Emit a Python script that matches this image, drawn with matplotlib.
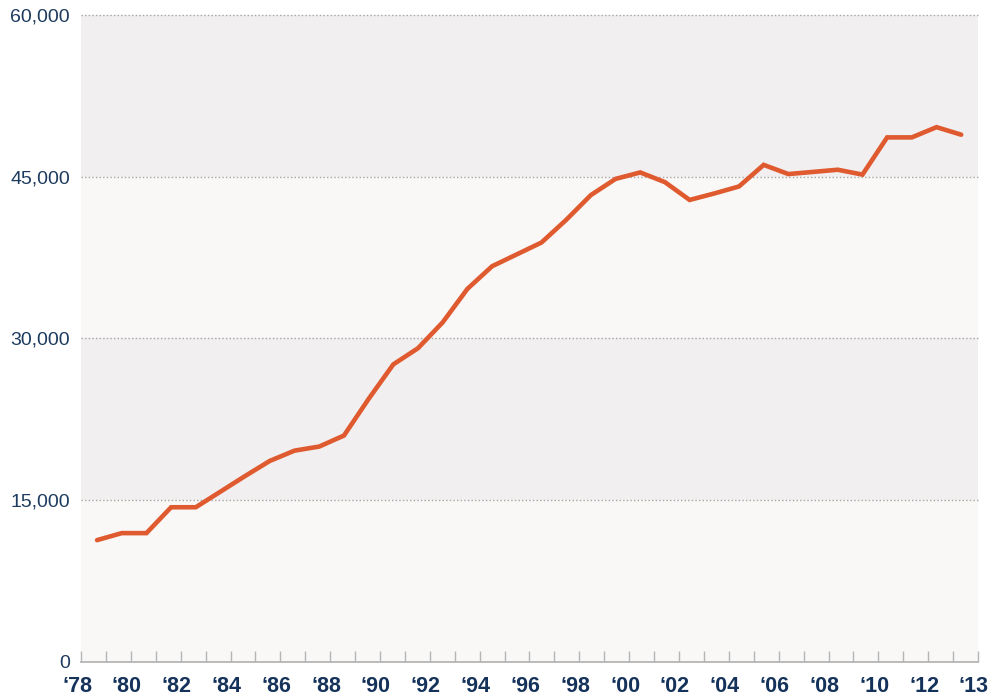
import matplotlib
matplotlib.use("Agg")
import matplotlib.pyplot as plt
import matplotlib.transforms as mtransforms
import numpy as np

years = list(range(1978, 2014))
values = [11300, 11950, 11950, 14350, 14350, 15800, 17250, 18650, 19600, 19980,
          21000, 24400, 27600, 29100, 31500, 34600, 36700, 37800, 38900, 41000,
          43300, 44800, 45400, 44500, 42850, 43450, 44100, 46100, 45250, 45450,
          45650, 45200, 48650, 48650, 49600, 48900]

tick_labels = ["\u201878", "", "\u201880", "", "\u201882", "", "\u201884", "", "\u201886", "",
               "\u201888", "", "\u201890", "", "\u201892", "", "\u201894", "", "\u201896", "",
               "\u201898", "", "\u201800", "", "\u201802", "", "\u201804", "", "\u201806", "",
               "\u201808", "", "\u201810", "", "\u201812", "", "\u201813"]
y_ticks = [0, 15000, 30000, 45000, 60000]
y_labels = ["0", "15,000", "30,000", "45,000", "60,000"]

plt.rcParams['font.family'] = ['Liberation Sans', 'DejaVu Sans']

fig = plt.figure(figsize=(10, 6.98), dpi=100)
ax = fig.add_axes([0.081, 0.0516, 0.897, 0.9269])

x0, x1 = 1977.35, 2013.68
ax.set_xlim(x0, x1)
ax.set_ylim(0, 60000)

light = '#f9f8f7'
dark = '#f1eff0'
for i in range(4):
    ax.axhspan(y_ticks[i], y_ticks[i + 1], color=light if i % 2 == 0 else dark, lw=0, zorder=0)

for yv in y_ticks[1:]:
    ax.axhline(yv, color='#a5a5a5', lw=1.0, linestyle=(0, (1, 1.6)), zorder=1, clip_on=False)

ax.plot(years, values, color='#df5a2f', lw=3.3, solid_capstyle='round',
        solid_joinstyle='miter', zorder=3)

for s in ['top', 'right', 'left']:
    ax.spines[s].set_visible(False)
ax.spines['bottom'].set_color('#b5b5b5')
ax.spines['bottom'].set_linewidth(1.3)

ticks = np.linspace(x0, x1, 37)
ax.set_xticks(ticks)
ax.set_xticklabels(tick_labels, fontsize=15.5, fontweight='bold', color='#15335a')
ax.tick_params(axis='x', direction='in', length=8, width=1.0, color='#b5b5b5', pad=10)
offset = mtransforms.ScaledTranslation(-4 / 100, 0, fig.dpi_scale_trans)
for lab in ax.get_xticklabels():
    lab.set_transform(lab.get_transform() + offset)

ax.set_yticks(y_ticks)
ax.set_yticklabels(y_labels, fontsize=14, color='#1d3b5e')
ax.tick_params(axis='y', length=0, pad=8)

fig.savefig('out.png', dpi=100, facecolor='white')
